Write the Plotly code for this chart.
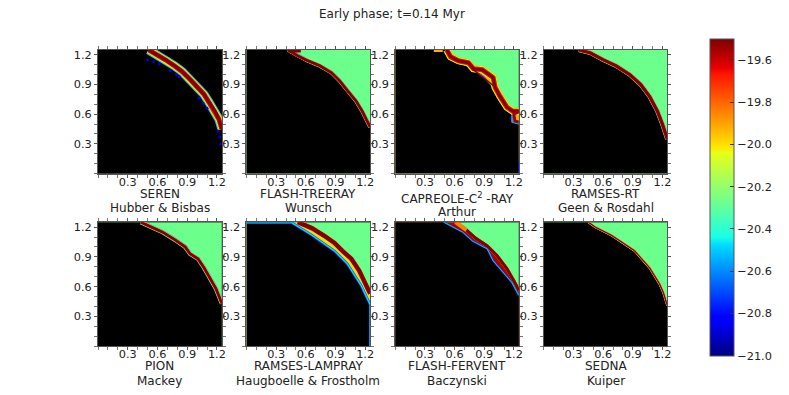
from plotly.subplots import make_subplots
import plotly.graph_objects as go

TITLE = "Early phase; t=0.14 Myr"
CODES = ["SEREN", "FLASH-TREERAY", "CAPREOLE-C<sup>2</sup> -RAY", "RAMSES-RT",
         "PION", "RAMSES-LAMPRAY", "FLASH-FERVENT", "SEDNA"]
AUTHORS = ["Hubber & Bisbas", "Wunsch", "Arthur", "Geen & Rosdahl",
           "Mackey", "Haugboelle & Frostholm", "Baczynski", "Kuiper"]

TICKS = [0.3, 0.6, 0.9, 1.2]
MINOR = [0.0, 0.1, 0.2, 0.4, 0.5, 0.7, 0.8, 1.0, 1.1]
CBAR_TICKS = [-19.6, -19.8, -20.0, -20.2, -20.4, -20.6, -20.8, -21.0]

# outer front
FRONT_X = [
    [0.51, 0.60, 0.68, 0.77, 0.85, 0.93, 1.00, 1.07, 1.12, 1.18, 1.22, 1.25],
    [0.42, 0.52, 0.62, 0.74, 0.86, 0.94, 1.02, 1.11, 1.17, 1.25],
    [0.52, 0.56, 0.64, 0.74, 0.79, 0.88, 0.99, 1.01, 1.06, 1.13, 1.19, 1.25],
    [0.35, 0.47, 0.60, 0.73, 0.87, 0.98, 1.07, 1.15, 1.20, 1.25],
    [0.43, 0.52, 0.65, 0.78, 0.88, 0.93, 1.01, 1.07, 1.13, 1.19, 1.25],
    [0.52, 0.66, 0.79, 0.89, 0.97, 1.06, 1.14, 1.19, 1.25],
    [0.61, 0.71, 0.81, 0.93, 1.03, 1.13, 1.21, 1.25],
    [0.45, 0.52, 0.60, 0.68, 0.77, 0.84, 0.92, 0.99, 1.07, 1.12, 1.17, 1.21, 1.25],
]
FRONT_Y = [
    [1.25, 1.20, 1.15, 1.09, 1.03, 0.95, 0.87, 0.80, 0.72, 0.63, 0.55, 0.45],
    [1.25, 1.19, 1.14, 1.09, 1.02, 0.94, 0.84, 0.73, 0.63, 0.47],
    [1.25, 1.18, 1.14, 1.12, 1.06, 1.05, 0.97, 0.87, 0.78, 0.67, 0.63, 0.63],
    [1.25, 1.22, 1.15, 1.09, 1.00, 0.90, 0.78, 0.63, 0.50, 0.35],
    [1.25, 1.21, 1.15, 1.07, 1.00, 0.93, 0.88, 0.79, 0.69, 0.58, 0.43],
    [1.25, 1.19, 1.11, 1.04, 0.96, 0.88, 0.76, 0.66, 0.53],
    [1.25, 1.18, 1.09, 1.01, 0.91, 0.78, 0.64, 0.56],
    [1.25, 1.20, 1.16, 1.12, 1.06, 1.01, 0.96, 0.88, 0.79, 0.71, 0.63, 0.54, 0.41],
]

# inner edge where the band is visibly one-sided: panel index -> (x, y, fill, edge width)
INNER = {
    2: ([0.51, 0.64, 0.76, 0.89, 0.99, 1.09, 1.18, 1.18, 1.25],
        [1.25, 1.13, 1.07, 0.98, 0.87, 0.72, 0.60, 0.52, 0.50], "#ffa800", 1.5),
    5: ([0.45, 0.66, 0.89, 1.02, 1.16, 1.25],
        [1.25, 1.12, 0.96, 0.83, 0.61, 0.42], "#f0e000", 2.5),
    6: ([0.49, 0.68, 0.78, 0.93, 0.99, 1.08, 1.18, 1.25],
        [1.25, 1.15, 1.06, 0.98, 0.86, 0.76, 0.64, 0.51], "#a80000", 1.5),
}
# second dark track and edge streaks: (panel, x, y, colour, width)
STREAKS = [
    (1, [0.42, 0.55], [1.25, 1.25], "#800000", 5),
    (2, [0.39, 0.48], [1.25, 1.25], "#ffb000", 4),
    (2, [0.79, 0.99], [1.05, 0.89], "#800000", 1.5),
    (2, [1.25, 1.20, 1.21, 1.25], [0.63, 0.60, 0.53, 0.52], "#a00000", 3),
    (2, [1.25, 1.25], [0.0, 0.12], "#0000ff", 1.5),
    (5, [0.0, 0.45], [1.25, 1.25], "#00a0ff", 3),
    (5, [1.25, 1.25], [0.0, 0.42], "#00a0ff", 2),
    (6, [0.61, 0.72], [1.25, 1.17], "#ff8000", 4),
]
# scattered blue cells below the SEREN front
FRINGE_X = [0.50, 0.56, 0.62, 0.73, 0.79, 0.82, 1.02, 1.06, 1.10, 1.21, 1.23, 1.24]
FRINGE_Y = [1.15, 1.13, 1.11, 1.04, 1.00, 0.98, 0.76, 0.71, 0.66, 0.43, 0.37, 0.30]

# band thickness of each panel, in px
DARK_W = [3.5, 2.5, 3, 3, 2.5, 4, 3, 1]
RED_W = [5, 3, 5, 3.5, 3, 4.5, 3, 1.5]
YELLOW_W = [7, 3.2, 7, 3.8, 3.6, 4.5, 3, 2]
CYAN_W = [9, 4, 7, 4.5, 4.5, 4.5, 3, 2.2]
AMBIENT_VISIBLE = [False, True, True, True, True, True, True, True]

JET = [
    [0.0, "#00007f"], [0.11, "#0000ff"], [0.125, "#0000ff"], [0.35, "#00dbff"],
    [0.375, "#19ffe6"], [0.64, "#e6ff19"], [0.66, "#ffe600"], [0.89, "#ff1400"],
    [0.91, "#e60000"], [1.0, "#7f0000"],
]
GREEN = "#6dff8b"
TEXT = "#222222"

COL_X = [(98.5, 223), (247.7, 372), (397.3, 521.5), (546.7, 670.7)]
ROW_Y = [(49, 173), (221.7, 346)]
W, H = 789, 395


def line(row, col, x, y, color, width):
    fig.add_trace(go.Scatter(x=x, y=y, mode="lines", line=dict(color=color, width=width), hoverinfo="skip"),
                  row=row, col=col)


def fill(row, col, x, y, color):
    fig.add_trace(go.Scatter(x=x, y=y, fill="toself", fillcolor=color, mode="none", hoverinfo="skip"),
                  row=row, col=col)


fig = make_subplots(rows=2, cols=4)
notes = []

for i in range(8):
    row, col = i // 4 + 1, i % 4 + 1
    x0, x1 = COL_X[col - 1]
    y0, y1 = ROW_Y[row - 1]
    axis = dict(range=[0, 1.25], tickmode="array", tickvals=TICKS, ticktext=["0.3", "0.6", "0.9", "1.2"],
                ticks="outside", ticklen=3, tickcolor="#555555", showgrid=False, zeroline=False,
                showline=True, linecolor="#555555", linewidth=1, mirror="ticks",
                tickfont=dict(size=11.3, color=TEXT),
                minor=dict(tickvals=MINOR, ticks="outside", ticklen=3, tickcolor="#777777"))
    fig.update_xaxes(axis, domain=[x0 / W, x1 / W], ticklabelstandoff=-5 if row == 1 else -6, row=row, col=col)
    fig.update_yaxes(axis, domain=[1 - y1 / H, 1 - y0 / H], row=row, col=col)

    fx, fy = FRONT_X[i], FRONT_Y[i]
    fill(row, col, [0, 1.25, 1.25, 0], [0, 0, 1.25, 1.25], GREEN if AMBIENT_VISIBLE[i] else "#000000")
    if i in INNER:
        ix, iy, band, edge = INNER[i]
        fill(row, col, [0] + fx + [1.25, 0], [1.25] + fy + [0, 0], band)
        fill(row, col, [0] + ix + [1.25, 0], [1.25] + iy + [0, 0], "#000000")
        line(row, col, ix, iy, "#0050ff", edge)
        line(row, col, ix, iy, "#00e0ff", edge / 2)
    else:
        fill(row, col, [0] + fx + [1.25, 0], [1.25] + fy + [0, 0], "#000000")
    for w, c in [(CYAN_W[i], "#00c8ff"), (YELLOW_W[i], "#f0f000"), (RED_W[i], "#f01000"), (DARK_W[i], "#800000")]:
        line(row, col, fx, fy, c, w)
    for panel, sx, sy, c, w in STREAKS:
        if panel == i:
            line(row, col, sx, sy, c, w)
    if i == 0:
        fig.add_trace(go.Scatter(x=FRINGE_X, y=FRINGE_Y, mode="markers", hoverinfo="skip",
                                 marker=dict(color="#0000e0", size=3)), row=row, col=col)

    cx = (x0 + x1) / 2 / W
    shift = 4 if i == 2 else 0
    notes.append(dict(text=CODES[i], xref="paper", yref="paper", x=cx, y=1 - (y1 + 20 + shift) / H,
                      xanchor="center", yanchor="middle", showarrow=False, font=dict(size=12, color=TEXT)))
    notes.append(dict(text=AUTHORS[i], xref="paper", yref="paper", x=cx, y=1 - (y1 + 35 + shift) / H,
                      xanchor="center", yanchor="middle", showarrow=False, font=dict(size=12, color=TEXT)))

notes.append(dict(text=TITLE, xref="paper", yref="paper", x=394 / W, y=1 - 13 / H, xanchor="center",
                  yanchor="middle", showarrow=False, font=dict(size=12, color=TEXT)))

# hidden marker only carries the colour bar
fig.add_trace(go.Scatter(x=[-1], y=[-1], mode="markers", hoverinfo="skip",
                         marker=dict(color=[-20], cmin=-21, cmax=-19.5, colorscale=JET, showscale=True,
                                     colorbar=dict(lenmode="pixels", len=316.5, thicknessmode="pixels", thickness=23.7,
                                                   x=713.5 / W, xanchor="left", y=1 - 355.7 / H, yanchor="bottom",
                                                   xpad=0, ypad=0, outlinewidth=1, outlinecolor="#555555",
                                                   tickmode="array", tickvals=CBAR_TICKS,
                                                   ticktext=["\u2212%.1f" % abs(v) for v in CBAR_TICKS],
                                                   ticks="inside", ticklen=4, tickcolor="#333333",
                                                   tickfont=dict(size=11.3, color=TEXT)))), row=1, col=1)

fig.update_layout(
    width=W, height=H, margin=dict(l=0, r=0, t=0, b=0), showlegend=False,
    paper_bgcolor="white", plot_bgcolor="black",
    font=dict(family="DejaVu Sans", color=TEXT),
    annotations=notes,
)
fig.write_html("out.html", config={"displayModeBar": False}, post_script="document.body.style.margin='0';")
